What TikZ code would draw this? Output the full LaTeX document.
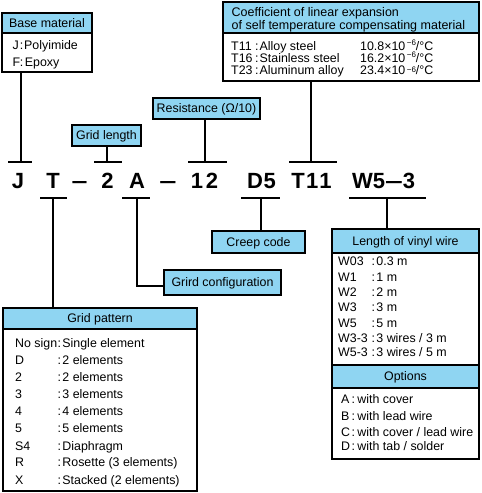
\documentclass[tikz,border=0pt]{standalone}
\usepackage{fontspec}
\usepackage{graphicx}
\setmainfont{Liberation Sans}
\definecolor{hdrc}{RGB}{143,213,242}
\newcommand{\txtsz}{\fontsize{12.4}{14}\selectfont}
\newcommand{\mysup}[2]{\raisebox{#1}{\fontsize{8}{8}\selectfont #2}}
\begin{document}
\begin{tikzpicture}[x=1pt,y=-1pt,
 bx/.style={draw=black,line width=2.5pt,inner sep=0pt},
 hd/.style={bx,fill=hdrc,font=\txtsz,text height=8.8pt,text depth=0pt},
 bd/.style={bx,fill=white},
 conn/.style={line width=2pt},
 tx/.style={font=\txtsz,inner sep=0pt,anchor=base west},
 cd/.style={font=\fontsize{22}{24}\selectfont\bfseries,inner sep=0pt,anchor=base},
]
\useasboundingbox (0,0) rectangle (482,493);

% ---------- boxes ----------
\node[bd,minimum width=90pt,minimum height=39pt] (bmb) at (47,52.5) {};
\node[hd,minimum width=90pt,minimum height=20pt] (bmh) at (47,23) {Base material};

\node[bd,minimum width=256pt,minimum height=48pt] (cfb) at (351,57) {};
\node[bx,fill=hdrc,minimum width=256pt,minimum height=31pt] (cfh) at (351,17.5) {};

\node[hd,minimum width=107pt,minimum height=21pt] (res) at (206.5,108.5) {Resistance (Ω/10)};
\node[hd,minimum width=69pt,minimum height=21pt] (glen) at (106.5,135.5) {Grid length};
\node[hd,minimum width=93pt,minimum height=22pt] (creep) at (258.5,242) {Creep code};
\node[hd,minimum width=117pt,minimum height=25pt] (gc) at (222.5,282.5) {Grird configuration};

\node[bd,minimum width=194pt,minimum height=162pt] (gpb) at (100,410) {};
\node[hd,minimum width=194pt,minimum height=21pt] (gph) at (100,318.5) {Grid pattern};

\node[bd,minimum width=147pt,minimum height=112pt] (vb) at (405.5,309) {};
\node[bd,minimum width=147pt,minimum height=71pt] (ob) at (405.5,423.5) {};
\node[hd,minimum width=147pt,minimum height=24pt] (vh) at (405.5,241) {Length of vinyl wire};
\node[hd,minimum width=147pt,minimum height=23pt] (oh) at (405.5,376.5) {Options};

% ---------- code ----------
\node[cd] (cJ) at (18,188) {J};
\node[cd] (cT) at (53,188) {T};
\node[cd] (cd1) at (79.5,188) {\scalebox{1.3}[1]{–}};
\node[cd] (c2) at (107.5,188) {2};
\node[cd] (cA) at (137,188) {A};
\node[cd] (cd2) at (168,188) {\scalebox{1.4}[1]{–}};
\node[cd] (c12) at (204.5,188) {1\hspace{3pt}2};
\node[cd] (cD5) at (261.5,188) {D\hspace{0.8pt}5};
\node[cd] (cT11) at (311.5,188) {T\hspace{1.5pt}1\hspace{1pt}1};
\node[cd] (cW) at (383.5,188) {W5\scalebox{1.45}[1]{–}3};

% ---------- junctions and bars ----------
\coordinate (jb) at (21,162);
\coordinate (glb) at (107,162);
\coordinate (rsb) at (205,162);
\coordinate (cfj) at (310.5,162);
\coordinate (tj) at (53,198);
\coordinate (aj) at (137,198);
\coordinate (dj) at (261,198);
\coordinate (wj) at (387,198);
\draw[conn] ([xshift=-13pt]jb) -- ([xshift=11pt]jb);
\draw[conn] ([xshift=-13pt]glb) -- ([xshift=15pt]glb);
\draw[conn] ([xshift=-17pt]rsb) -- ([xshift=22pt]rsb);
\draw[conn] ([xshift=-21.5pt]cfj) -- ([xshift=26.5pt]cfj);
\draw[conn] ([xshift=-13pt]tj) -- ([xshift=14pt]tj);
\draw[conn] ([xshift=-15pt]aj) -- ([xshift=13pt]aj);
\draw[conn] ([xshift=-20pt]dj) -- ([xshift=19pt]dj);
\draw[conn] ([xshift=-38pt]wj) -- ([xshift=39pt]wj);

% ---------- connectors ----------
\draw[conn] (bmb.south -| jb) -- (jb);
\draw[conn] (glen.south -| glb) -- (glb);
\draw[conn] (res.south -| rsb) -- (rsb);
\draw[conn] (cfb.south -| cfj) -- (cfj);
\draw[conn] (tj) -- (tj |- gph.north);
\draw[conn] (aj) |- ([yshift=-3.5pt]gc.west);
\draw[conn] (dj) -- (dj |- creep.north);
\draw[conn] (wj) -- (wj |- vh.north);

% ---------- base material text ----------
\node[tx] (bmk1) at (12.5,49) {J};
\node[tx] (bmv1) at (19.7,49) {:\hspace{0.8pt}Polyimide};
\node[tx] (bmk2) at (12.5,66) {F};
\node[tx] (bmv2) at (19.7,66) {:\hspace{1.5pt}Epoxy};

% ---------- coefficient text ----------
\node[inner sep=0pt,anchor=north west,align=left,font=\fontsize{12.5}{11}\selectfont] (cfht) at (231.5,7.6)
  {Coefficient of linear expansion\\of self temperature compensating material};
\foreach \k/\m/\v/\y/\r [count=\i] in {T11/{Alloy steel}/{10.8}/50/4.5pt, T16/{Stainless steel}/{16.2}/62.3/4.5pt, T23/{Aluminum alloy}/{23.4}/74/2pt}{
  \node[tx] (cfk\i) at (231,\y) {\k};
  \node[tx] (cfm\i) at (255,\y) {:\hspace{1pt}\m};
  \node[tx] (cfv\i) at (360,\y) {\v×10\hspace{1.5pt}\mysup{\r}{−6}/°C};
}

% ---------- grid pattern text ----------
\foreach \k/\v/\y [count=\i] in {{No sign}/{Single element}/347, D/{2 elements}/364, 2/{2 elements}/381, 3/{3 elements}/398, 4/{4 elements}/415, 5/{5 elements}/432, S4/{Diaphragm}/450, R/{Rosette (3 elements)}/466.5, X/{Stacked (2 elements)}/484}{
  \node[tx] (gpk\i) at (15,\y) {\k};
  \node[tx] (gpv\i) at (57.3,\y) {:\hspace{1.5pt}\v};
}

% ---------- vinyl wire text ----------
\foreach \k/\v/\y [count=\i] in {W03/{0.3 m}/265.5, W1/{1 m}/281.3, W2/{2 m}/296.5, W3/{3 m}/311.5, W5/{5 m}/327.3, W3-3/{3 wires / 3 m}/342.5, W5-3/{3 wires / 5 m}/356.7}{
  \node[tx] (vk\i) at (338,\y) {\k};
  \node[tx] (vv\i) at (371.3,\y) {:\hspace{1.5pt}\v};
}

% ---------- options text ----------
\foreach \k/\v/\y [count=\i] in {A/{with cover}/403.5, B/{with lead wire}/420.5, C/{with cover / lead wire}/436.5, D/{with tab / solder}/450}{
  \node[tx] (ok\i) at (341,\y) {\k};
  \node[tx] (ov\i) at (351.3,\y) {:\hspace{2.5pt}\v};
}
\end{tikzpicture}
\end{document}
